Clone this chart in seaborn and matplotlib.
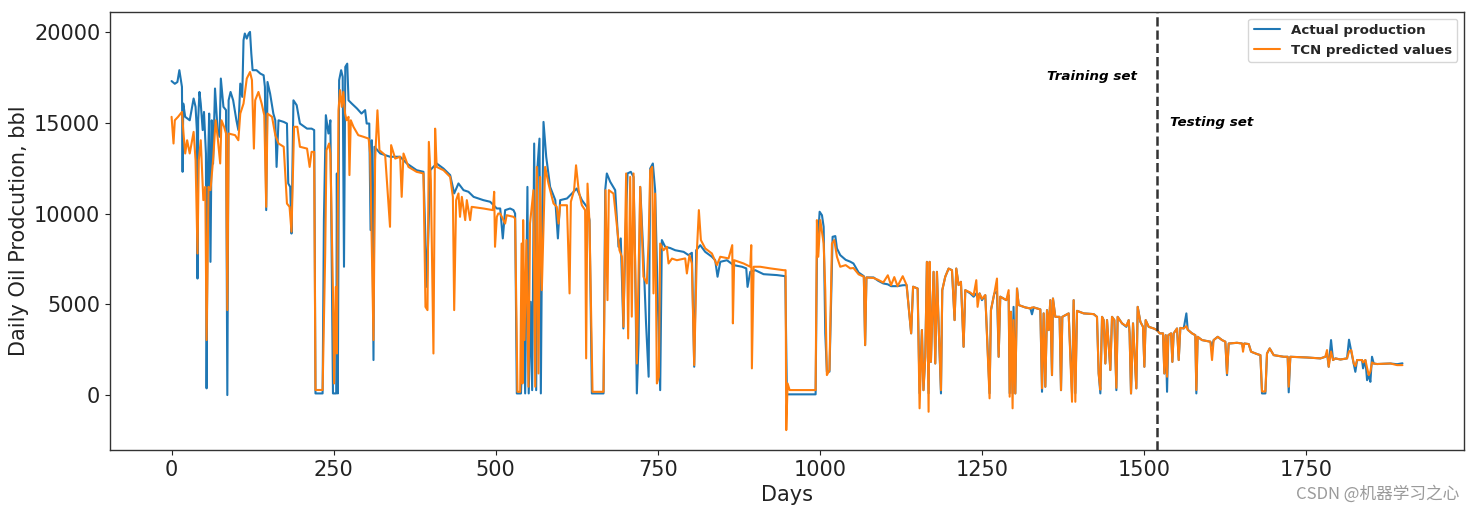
import numpy as np
import pandas as pd
import matplotlib
matplotlib.use("Agg")
import matplotlib.pyplot as plt
import seaborn as sns

# ---------------- data ----------------
actual_days_early = [0, 5, 9, 12, 14, 16, 17, 18, 21, 28, 34, 37, 39, 40, 41, 43, 45, 48, 50, 53, 54, 56, 58, 60, 62, 64, 67, 71, 74, 76, 80, 84, 86, 88, 91, 95, 100, 103, 106, 109, 111, 113, 116, 119, 121, 123, 125, 131, 137, 142, 144, 146, 148, 152, 157, 160, 162, 165, 173, 178, 180, 183, 185, 188, 193, 198, 209, 216, 220, 222, 233, 235, 238, 242, 245, 249, 254, 255, 256.5, 258.5, 261.6, 264, 266, 268, 271, 273, 278, 286, 293, 298.6, 301, 305, 307, 309, 311.5, 313, 322, 337, 352.6, 363, 378, 388.6, 393.8, 399, 409, 419.5, 429.8, 436, 442.6, 450.4, 458, 466, 481, 491.5, 501.8, 507, 511, 514.6, 522.3, 527.5, 530, 532.6, 539, 543, 545.5, 549, 551, 554, 556.3, 559.4, 562.5, 564.5, 567.6, 569.7, 571.7, 573.8, 578, 584, 592, 596, 599.5, 610, 617.5, 625, 633, 640.7, 644.8, 648.4, 666.4, 669, 671.5, 676.7, 684.4, 689.5, 693, 697, 700, 703.4, 708.5, 712.7, 715, 717.8, 720.4, 723, 728, 732, 736, 738.4, 742.5, 746, 749.7, 753.8, 756.4, 761.5, 769.3, 777, 790, 797.6, 802.7, 806.3, 809.4, 815.6, 823.3, 833.6, 838.7, 842.3, 846.5, 856.8, 867, 880, 886.6, 888.6, 892.8, 900.5, 913.3, 934, 946.8, 949.3, 993.6, 995.6, 999.8, 1003.4, 1006, 1008.5, 1011, 1015, 1017.8, 1019.8, 1024, 1026.5]
actual_vals_early = [17300, 17150, 17250, 17900, 17440, 16980, 12300, 16060, 15330, 15140, 16340, 15880, 14600, 6420, 15140, 16700, 16060, 14600, 15600, 13300, 370, 12390, 15510, 7340, 15140, 12750, 16890, 14600, 14230, 17440, 15880, 15700, 0, 16240, 16700, 16240, 15140, 14600, 17160, 16430, 19550, 19920, 19640, 19920, 20010, 18820, 17900, 17900, 17710, 17620, 16980, 10190, 17250, 16610, 15510, 15140, 12570, 15140, 15050, 14960, 11660, 11470, 8900, 16240, 15970, 14960, 14680, 14680, 14600, 90, 90, 9640, 15420, 14410, 15140, 90, 90, 12210, 90, 17350, 17900, 17530, 7070, 18080, 18260, 16240, 16060, 15790, 15510, 15700, 14960, 14960, 9090, 14040, 1930, 13680, 13310, 13130, 13130, 12760, 12390, 12300, 5960, 12390, 12760, 12480, 12120, 11110, 11660, 11290, 11200, 10920, 10740, 10650, 10280, 10280, 8630, 10190, 10280, 10190, 10000, 90, 90, 4130, 90, 11470, 90, 5140, 270, 13860, 270, 12570, 14130, 90, 9450, 15050, 13120, 11470, 10740, 8630, 10740, 10830, 11100, 11380, 10740, 10370, 9640, 90, 90, 11290, 12210, 11750, 11290, 8170, 8630, 3670, 8540, 12210, 12300, 12020, 7620, 90, 2840, 11470, 7620, 3950, 1010, 12480, 12760, 11290, 5780, 270, 8540, 8170, 8100, 7980, 7890, 7710, 7840, 1560, 7980, 8260, 7890, 7620, 7430, 6520, 7340, 7430, 7160, 7070, 6980, 5960, 6790, 6880, 6660, 6610, 6550, 40, 40, 7620, 10100, 9910, 9270, 3400, 1290, 1290, 5600, 8720, 8760, 8080]

pred_days_early = [0, 3, 5, 10, 16, 18, 21, 24, 28, 34, 37, 40, 42, 45, 49, 52, 54, 57, 60, 64, 68, 71, 75, 77, 81, 84, 86, 88, 98, 103, 106, 111, 116, 121, 124, 127, 129, 134, 139, 143, 146, 148, 155, 160, 165, 173, 178, 182, 185, 189, 194, 198, 209, 213, 216, 220, 222, 233, 237, 239, 243, 245, 249, 250.8, 253.3, 255, 257.5, 260, 262.6, 265, 267.7, 270, 273, 274.4, 276.5, 280.6, 288, 296, 304, 306.3, 311.5, 314, 317.6, 320.7, 329.5, 337, 338.7, 345, 352.6, 355, 357.8, 365.5, 378, 388.6, 391.7, 394.8, 396.9, 400, 404, 406.6, 409, 419.5, 429.8, 434, 436, 439, 442.6, 445, 447.8, 453, 455.5, 460.6, 463, 481, 495.6, 497.7, 499, 501.8, 504, 507, 514.6, 517, 527.5, 530, 533.6, 537.8, 540, 541.4, 542.4, 544.5, 547.5, 550.6, 553, 558.3, 561, 563.5, 566, 568.6, 571.2, 576.3, 581.5, 589.2, 594.3, 597, 599.5, 610, 614, 616, 621, 624, 628, 633, 638, 639.6, 641.7, 644.8, 649.4, 666.4, 669.5, 672.5, 674.6, 681.8, 691, 694.7, 697.2, 701.3, 704.4, 707.5, 710, 712.7, 715.2, 717.8, 723, 728, 733.2, 736, 738.4, 741.5, 743.5, 746, 748.7, 751.7, 753.8, 759, 764, 766.7, 772, 779.6, 792.4, 795, 799, 802.7, 806.3, 810.5, 813.5, 816.6, 823.3, 833.6, 841.3, 846.5, 859.3, 865, 866, 868, 882.5, 892.8, 894.3, 895.3, 898, 908, 923.6, 944.2, 947.3, 948.3, 950.4, 953.5, 993.6, 995.6, 997.7, 1000.8, 1006, 1008.5, 1011, 1015, 1018.8, 1022.4, 1026.5]
pred_vals_early = [15330, 13860, 15140, 15330, 15600, 14600, 13310, 14040, 13310, 14500, 12940, 7800, 12940, 14040, 10740, 11470, 3030, 11470, 11290, 12940, 15140, 14230, 12760, 15140, 14780, 14410, 4680, 14410, 14320, 14040, 15510, 16060, 17440, 17800, 17350, 13580, 16240, 16700, 16060, 15420, 10370, 15510, 15330, 14320, 13860, 13680, 10550, 10370, 9000, 14780, 14780, 13680, 13580, 12570, 13400, 13400, 280, 280, 7800, 13490, 13860, 13310, 5600, 640, 5960, 2290, 15690, 16800, 15880, 16700, 15510, 15140, 15330, 12120, 15140, 14780, 14320, 14230, 14130, 13310, 3030, 12940, 15690, 13490, 13220, 9270, 13770, 13030, 13130, 10920, 13310, 12570, 12300, 12210, 4860, 4680, 13950, 11840, 2290, 14680, 12570, 12390, 12020, 10920, 4680, 10740, 11110, 9820, 10920, 9640, 10740, 9640, 10370, 10280, 10190, 11200, 8170, 9820, 10000, 10000, 9450, 9910, 9820, 9730, 180, 180, 8350, 640, 9640, 3030, 8540, 460, 9450, 11290, 460, 12570, 1190, 12020, 5780, 12570, 11650, 10560, 10370, 9450, 10460, 10460, 5600, 10650, 11290, 12660, 11290, 10460, 10190, 2020, 11650, 9450, 180, 180, 11290, 5230, 11290, 11100, 7980, 7620, 3760, 12210, 3120, 12020, 4320, 12210, 7250, 1740, 11470, 6520, 6150, 8540, 12390, 12570, 5600, 11100, 640, 1010, 8350, 7980, 8170, 7250, 7520, 7430, 7530, 6700, 7710, 7250, 1650, 7980, 10190, 8540, 8080, 7800, 7160, 7620, 7530, 8260, 3950, 7430, 7250, 7070, 8260, 1470, 7070, 7070, 6980, 6880, 6880, -1930, 640, 275, 275, 9640, 7620, 9640, 8350, 5780, 1100, 1380, 8350, 8540, 7620]

late_days = [1031.6, 1040, 1047, 1052, 1060, 1068, 1070, 1072, 1083, 1090, 1098, 1105, 1110, 1115, 1120, 1128, 1134, 1141, 1144, 1151, 1154, 1157.6, 1160, 1162.8, 1165.3, 1167.9, 1169.5, 1171.5, 1175.6, 1178.2, 1180.8, 1183.3, 1187, 1189, 1193.6, 1198.8, 1204, 1208, 1210.6, 1214.2, 1217.8, 1221.9, 1224.5, 1232.2, 1237.4, 1241.5, 1243.5, 1246.6, 1250.2, 1255.4, 1262, 1264.1, 1269.3, 1273.4, 1276, 1278.5, 1287.8, 1291.4, 1293, 1295, 1297.5, 1299, 1301.7, 1304.3, 1306.9, 1317, 1325, 1327.4, 1330, 1340.3, 1342.9, 1345.4, 1348, 1350.6, 1353.2, 1355.7, 1358.3, 1359.8, 1363.4, 1370, 1372.2, 1374.2, 1384, 1389.2, 1391.7, 1394.3, 1396.9, 1407.2, 1422.6, 1427.7, 1430.3, 1432.9, 1435.5, 1438, 1440.6, 1443.2, 1448.3, 1450.9, 1454.5, 1457.6, 1459.6, 1466.3, 1473, 1476.6, 1478, 1480.2, 1483.3, 1488.4, 1490.5, 1494.6, 1498.7, 1500.8, 1502.8, 1507.5, 1515.2, 1520.3, 1524.4, 1529.6, 1531.6, 1533.7, 1535.8, 1537.8, 1542, 1544, 1546, 1551.2, 1553.8, 1556.3, 1561.5, 1565.6, 1567.7, 1574.3, 1579.4, 1581, 1583, 1589.7, 1602.6, 1605.2, 1607.7, 1614, 1620.6, 1625.7, 1628.3, 1630.9, 1643.7, 1651.5, 1653, 1655, 1661.8, 1665.4, 1674.6, 1679.8, 1682.3, 1687.5, 1690, 1694.2, 1700.3, 1715.8, 1721.9, 1723.5, 1726, 1751.8, 1772.4, 1780, 1782.6, 1785.2, 1788.8, 1791.9, 1795.5, 1803.2, 1813.5, 1816.5, 1820, 1823.8, 1826.3, 1829, 1836.6, 1838.2, 1841.8, 1844.4, 1847, 1849.5, 1852, 1854.6, 1859.8, 1880.4, 1890.7, 1899]
late_actual = [7710, 7450, 7350, 7250, 6750, 6550, 2750, 6480, 6480, 6300, 6150, 6100, 6000, 6000, 6000, 6050, 6060, 3400, 5970, 5870, 100, 3580, 270, 2110, 7340, 100, 7340, 1830, 6790, 1740, 6790, 3950, 90, 5780, 6520, 6970, 6880, 4130, 6970, 6060, 6240, 2660, 5780, 5600, 5420, 5600, 5400, 5600, 5230, 5500, 100, 4680, 5600, 5700, 2110, 5420, 5230, 5500, 100, 4590, 100, 4860, 90, 5870, 4960, 4830, 4770, 4450, 4830, 4720, 180, 4500, 460, 4680, 3580, 5230, 1100, 5320, 4310, 4310, 270, 4310, 4500, 100, 5230, 100, 4640, 4500, 4460, 4310, 1190, 90, 4310, 4130, 1740, 4130, 1380, 4310, 4130, 270, 4310, 3950, 3760, 4130, 3400, 90, 3950, 370, 4860, 4040, 3760, 1560, 4130, 3760, 3670, 3580, 3400, 3400, 1190, 3300, 180, 3300, 3400, 1830, 3400, 3670, 1930, 3700, 3670, 4500, 3600, 3400, 3300, 90, 3210, 3030, 2940, 2700, 3030, 3210, 3030, 2940, 1100, 2840, 2880, 2840, 2600, 2840, 2810, 2390, 2260, 2200, 90, 90, 2290, 2570, 2200, 2110, 2110, 150, 2110, 2070, 2020, 2110, 2300, 1560, 3030, 1930, 2020, 1960, 2020, 3050, 2400, 1740, 1280, 1930, 1930, 1470, 1930, 820, 1100, 730, 2110, 1740, 1710, 1740, 1700, 1750]
late_pred = [7070, 7160, 6980, 7000, 6650, 6520, 2750, 6480, 6450, 6350, 6200, 6600, 6050, 6500, 6000, 6550, 6060, 3400, 5970, 5870, -730, 3580, 270, 2110, 7340, -920, 7340, 1830, 6790, 1740, 6790, 3950, 270, 5780, 6520, 6970, 6880, 4130, 6970, 6060, 6240, 2660, 5780, 5650, 5500, 6330, 4860, 5600, 5300, 5510, -180, 4680, 5600, 6420, 2110, 5420, 5230, 5780, -90, 4590, -730, 4130, 90, 5870, 4960, 4830, 4770, 4830, 4830, 4720, 370, 4500, 460, 4680, 3580, 5230, 1100, 5320, 4310, 4310, 270, 4310, 4500, -370, 5230, -370, 4640, 4500, 4460, 4310, 1190, 300, 4310, 4130, 1740, 4130, 1380, 4310, 4130, 400, 4310, 3950, 3800, 4130, 3400, 90, 3950, 370, 4860, 4040, 3760, 1560, 4130, 3760, 3670, 3580, 3400, 3400, 1190, 3300, 1010, 3300, 3400, 1830, 3400, 3670, 1930, 3700, 3670, 3800, 3600, 3400, 3300, 280, 3210, 3030, 2940, 1930, 3030, 3210, 3030, 2940, 1190, 2840, 2880, 2840, 2390, 2840, 2810, 2390, 2260, 2200, 200, 200, 2290, 2570, 2200, 2110, 2110, 460, 2110, 2070, 2020, 2110, 2480, 1560, 2400, 1930, 2020, 1960, 2020, 2400, 2480, 1740, 1600, 1930, 1930, 1800, 1930, 1500, 1100, 1300, 1800, 1740, 1710, 1740, 1650, 1650]

split_day = 1520
series_labels = ["Actual production", "TCN predicted values"]

# ---------------- build frames ----------------
df_actual = pd.DataFrame({"Days": actual_days_early + late_days,
                          "Production": actual_vals_early + late_actual})
df_pred = pd.DataFrame({"Days": pred_days_early + late_days,
                        "Production": pred_vals_early + late_pred})

sns.set_style("ticks")
plt.rcParams["font.family"] = ["DejaVu Sans"]

fig, ax = plt.subplots(figsize=(14.73, 5.14), dpi=100)
fig.subplots_adjust(left=0.0747, right=0.9939, top=0.9767, bottom=0.1245)

sns.lineplot(data=df_actual, x="Days", y="Production", ax=ax, color="#1f77b4",
             label=series_labels[0], estimator=None, sort=False, linewidth=1.5)
sns.lineplot(data=df_pred, x="Days", y="Production", ax=ax, color="#ff7f0e",
             label=series_labels[1], estimator=None, sort=False, linewidth=1.5)

ax.axvline(split_day, color="#333333", linestyle="--", linewidth=1.8)

ax.text(1350, 17560, "Training set", fontsize=9.7, fontweight="bold",
        fontstyle="italic", va="center", ha="left", color="black")
ax.text(1540, 15030, "Testing set", fontsize=9.7, fontweight="bold",
        fontstyle="italic", va="center", ha="left", color="black")

ax.set_xlabel("Days", fontsize=15, color="#222222")
ax.set_ylabel("Daily Oil Prodcution, bbl", fontsize=15, color="#222222")
ax.tick_params(axis="both", labelsize=15, colors="#222222")
ax.margins(x=0.05, y=0.05)

for sp in ax.spines.values():
    sp.set_color("#333333")
    sp.set_linewidth(1.0)

leg = ax.legend(loc="upper right", prop={"weight": "bold", "size": 9.6},
                frameon=True, fancybox=True, framealpha=0.8, edgecolor="#cccccc")

fig.text(0.991, 0.038, "CSDN @机器学习之心", ha="right", va="center",
         fontsize=12, color="#9a9a9a",
         family=["Noto Sans CJK SC", "DejaVu Sans"])

fig.savefig("out.png", dpi=100)
